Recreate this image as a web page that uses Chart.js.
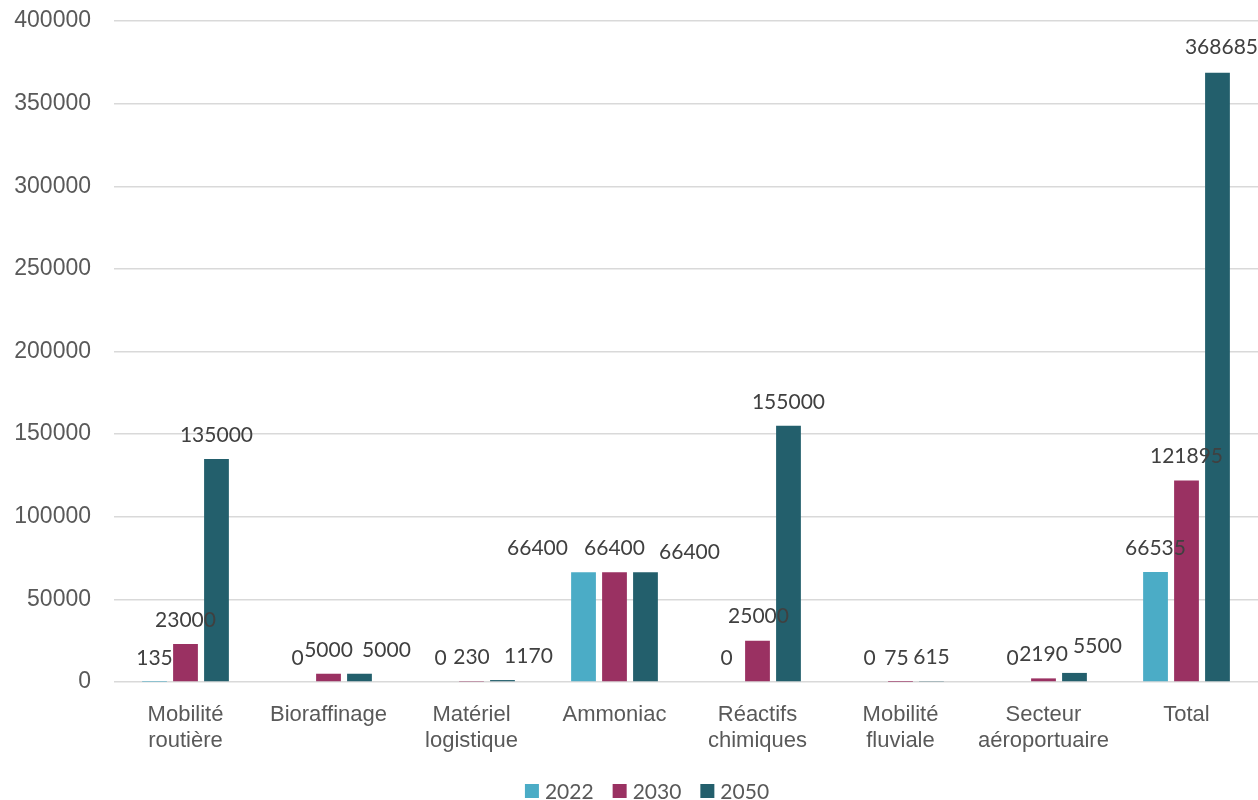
<!DOCTYPE html>
<html>
<head>
<meta charset="utf-8">
<script src="https://cdn.jsdelivr.net/npm/chart.js@4/dist/chart.umd.min.js"></script>
<style>
  html, body { margin: 0; padding: 0; background: #fff; }
  #wrap { width: 1258px; height: 800px; position: relative; }
</style>
</head>
<body>
<div id="wrap"><canvas id="h2_chart"></canvas></div>
<script>
var categories = [
  ['Mobilité', 'routière'],
  'Bioraffinage',
  ['Matériel', 'logistique'],
  'Ammoniac',
  ['Réactifs', 'chimiques'],
  ['Mobilité', 'fluviale'],
  ['Secteur', 'aéroportuaire'],
  'Total'
];
var years = ['2022', '2030', '2050'];
var values2022 = [135, 0, 0, 66400, 0, 0, 0, 66535];
var values2030 = [23000, 5000, 230, 66400, 25000, 75, 2190, 121895];
var values2050 = [135000, 5000, 1170, 66400, 155000, 615, 5500, 368685];
var yTicks = [0, 50000, 100000, 150000, 200000, 250000, 300000, 350000, 400000];

var colors = ['#4BACC6', '#9A3162', '#235F6C'];

// some value labels are pushed sideways so they don't collide
var labelShift = {
  '2:1': [27, 0], '2:2': [26, 0],
  '0:3': [-46, 0], '2:3': [44, 4],
  '1:4': [1, 0],
  '1:5': [-4, 0],
  '2:6': [23, -3],
  '2:7': [4, -2]
};

var valueLabels = {
  id: 'valueLabels',
  afterDatasetsDraw: function(chart) {
    var ctx = chart.ctx;
    ctx.save();
    ctx.font = '21px Lato';
    ctx.fillStyle = '#404040';
    ctx.textAlign = 'center';
    ctx.textBaseline = 'middle';
    chart.data.datasets.forEach(function(ds, d) {
      chart.getDatasetMeta(d).data.forEach(function(bar, i) {
        var s = labelShift[d + ':' + i] || [0, 0];
        ctx.fillText(String(ds.data[i]), bar.x + s[0], bar.y - 24 + s[1]);
      });
    });
    ctx.restore();
  }
};

var bottomLegend = {
  id: 'bottomLegend',
  afterDraw: function(chart) {
    var ctx = chart.ctx;
    ctx.save();
    ctx.font = '21px Lato';
    ctx.textBaseline = 'middle';
    var box = 14, gap = 6, space = 19;
    var widths = years.map(function(y) { return ctx.measureText(y).width; });
    var total = widths.reduce(function(a, w) { return a + box + gap + w; }, 0) + space * (years.length - 1);
    var x = 647 - total / 2;
    var y = 791;
    years.forEach(function(label, i) {
      ctx.fillStyle = colors[i];
      ctx.fillRect(x, y - box / 2, box, box);
      ctx.fillStyle = '#595959';
      ctx.fillText(label, x + box + gap, y + 1);
      x += box + gap + widths[i] + space;
    });
    ctx.restore();
  }
};

var h2_chart;

document.addEventListener("DOMContentLoaded", function(event){
  h2_chart = new Chart(document.getElementById('h2_chart'), {
    type: 'bar',
    data: {
      labels: categories,
      datasets: [
        { label: years[0], data: values2022, backgroundColor: colors[0] },
        { label: years[1], data: values2030, backgroundColor: colors[1] },
        { label: years[2], data: values2050, backgroundColor: colors[2] }
      ]
    },
    options: {
      responsive: true,
      maintainAspectRatio: false,
      animation: false,
      categoryPercentage: 0.65,
      barPercentage: 0.8,
      layout: { padding: { top: 21, right: 0, bottom: 0, left: 0 } },
      plugins: {
        legend: { display: false },
        tooltip: { enabled: false }
      },
      scales: {
        x: {
          grid: { display: false },
          border: { display: false },
          ticks: {
            color: '#595959',
            font: { family: 'Liberation Sans', size: 22, lineHeight: 1.18 },
            padding: 12,
            maxRotation: 0,
            autoSkip: false
          },
          afterFit: function(scale) { scale.height = 118; }
        },
        y: {
          min: 0,
          max: 400000,
          afterBuildTicks: function(scale) {
            scale.ticks = yTicks.map(function(v) { return { value: v }; });
          },
          grid: { color: '#d9d9d9', lineWidth: 1.5, drawTicks: false },
          border: { display: false },
          ticks: {
            color: '#595959',
            font: { family: 'Liberation Sans', size: 23 },
            padding: 23,
            callback: function(v) { return String(v); }
          },
          afterFit: function(scale) {
            scale.width = 114;
            scale.paddingTop = 0;
            scale.paddingBottom = 0;
          }
        }
      }
    },
    plugins: [valueLabels, bottomLegend]
  });
});
</script>
</body>
</html>
